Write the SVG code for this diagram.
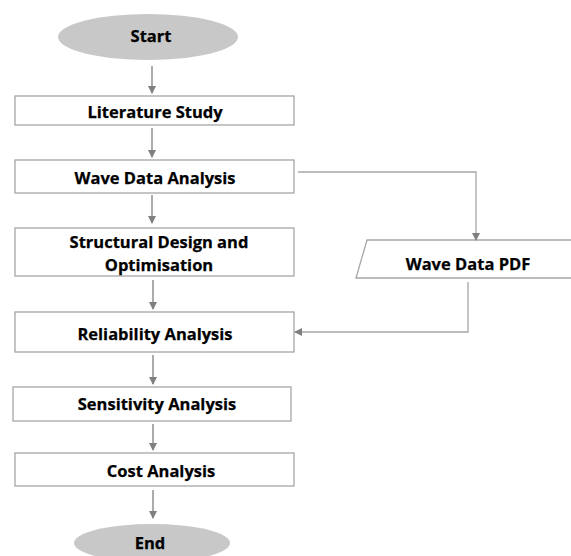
<svg xmlns="http://www.w3.org/2000/svg" width="571" height="556" viewBox="0 0 571 556">
<defs>
<marker id="ah" markerWidth="8" markerHeight="8" refX="7" refY="4" orient="auto" markerUnits="userSpaceOnUse">
<path d="M0,0 L8,4 L0,8 Z" fill="#7f7f7f"/>
</marker>
<style>
.box{fill:#fff;stroke:#a6a6a6;stroke-width:1.3}
.term{fill:#c8c8c8;stroke:none}
.t{font-family:"Open Sans","Liberation Sans",sans-serif;font-weight:bold;font-size:16.5px;fill:#000;stroke:#000;stroke-width:0.25;text-anchor:middle;dominant-baseline:central}
.c{fill:none;stroke:#7f7f7f;stroke-width:1.3;marker-end:url(#ah)}
.c2{fill:none;stroke:#a6a6a6;stroke-width:1.3;marker-end:url(#ah)}
</style>
</defs>
<rect width="571" height="556" fill="#fff"/>
<g id="start"><ellipse class="term" cx="148" cy="37" rx="90" ry="23"/><text class="t" x="151" y="35">Start</text></g>
<g id="literature"><rect class="box" x="15" y="96" width="279" height="29"/><text class="t" x="155" y="111">Literature Study</text></g>
<g id="wave"><rect class="box" x="15" y="160" width="279" height="33"/><text class="t" x="155" y="177">Wave Data Analysis</text></g>
<g id="structural"><rect class="box" x="15" y="228" width="279" height="48"/><text class="t" x="159" y="241">Structural Design and</text><text class="t" x="159" y="264">Optimisation</text></g>
<g id="reliability"><rect class="box" x="15" y="312" width="279" height="40"/><text class="t" x="155" y="333">Reliability Analysis</text></g>
<g id="sensitivity"><rect class="box" x="13" y="387" width="278" height="34"/><text class="t" x="157" y="403">Sensitivity Analysis</text></g>
<g id="cost"><rect class="box" x="15" y="453" width="279" height="33"/><text class="t" x="161" y="470">Cost Analysis</text></g>
<g id="end"><ellipse class="term" cx="152" cy="543" rx="78" ry="19"/><text class="t" x="150" y="542">End</text></g>
<g id="pdf"><path class="box" d="M367,240 L580,240 L580,278 L356,278 Z"/><text class="t" x="468" y="263">Wave Data PDF</text></g>
<g id="connectors">
<path class="c" d="M152,66 V93"/>
<path class="c" d="M152,128 V157"/>
<path class="c" d="M152,195 V223"/>
<path class="c" d="M153,280 V309"/>
<path class="c" d="M153,355 V384"/>
<path class="c" d="M153,424 V450"/>
<path class="c" d="M153,490 V518"/>
<path class="c2" d="M298,172 H476 V240"/>
<path class="c2" d="M468,282 V332 H295"/>
</g>
</svg>
